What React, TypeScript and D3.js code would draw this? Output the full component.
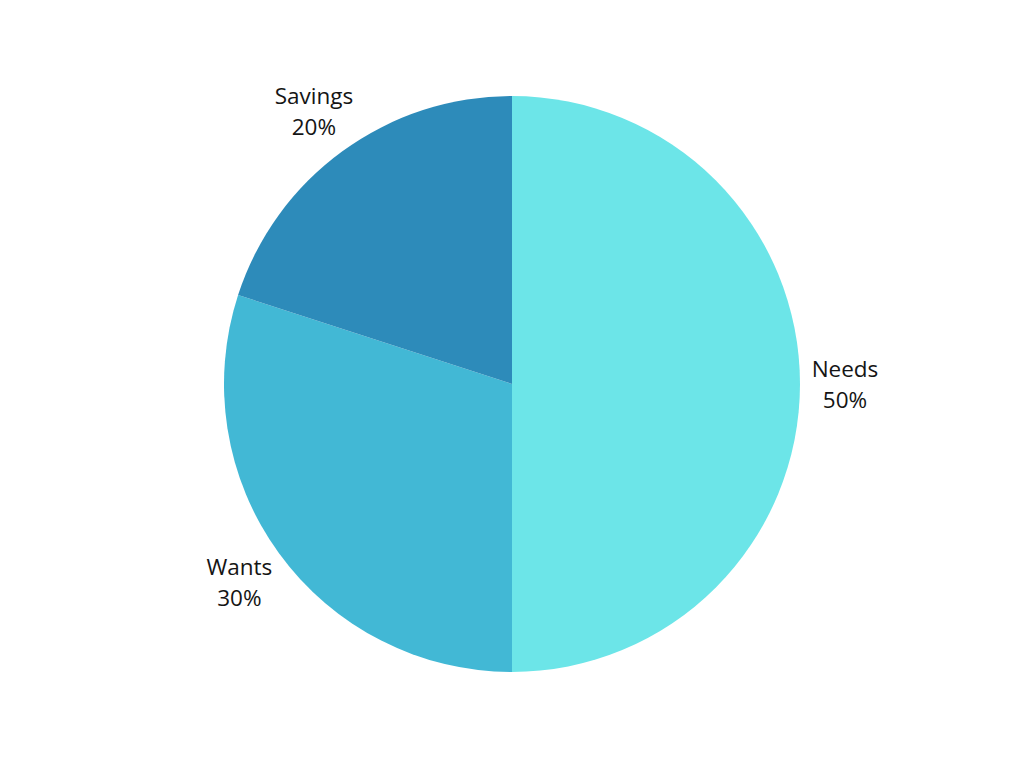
import React from "react";
import * as d3 from "d3";

const categories = ["Needs", "Wants", "Savings"];
const values = [50, 30, 20];
const colors = ["#6ce5e8", "#42b8d5", "#2d8bba"];

const W = 1024;
const H = 768;
const cx = 512;
const cy = 384;
const R = 288;
const labelR = 337;

export default function App() {
  const data = categories.map((c, i) => ({ name: c, value: values[i], color: colors[i] }));
  const pie = d3
    .pie<{ name: string; value: number; color: string }>()
    .sort(null)
    .value((d) => d.value);
  const arcs = pie(data);
  const arc = d3.arc<d3.PieArcDatum<any>>().innerRadius(0).outerRadius(R);
  const total = d3.sum(values);

  return (
    <svg
      width={W}
      height={H}
      style={{ position: "absolute", left: 0, top: 0, background: "#ffffff" }}
    >
      <g transform={`translate(${cx},${cy})`}>
        {arcs.map((a) => (
          <path key={a.data.name} d={arc(a) || ""} fill={a.data.color} />
        ))}
        {arcs.map((a) => {
          const mid = (a.startAngle + a.endAngle) / 2;
          const x = Math.sin(mid) * labelR - (Math.sin(mid) > 0.99 ? 4 : 0);
          const y = -Math.cos(mid) * labelR;
          const pct = Math.round((a.data.value / total) * 100);
          return (
            <g key={"l" + a.data.name}>
              <text
                x={x}
                y={y - 7}
                textAnchor="middle"
                fontFamily="'Open Sans', 'Noto Sans', sans-serif"
                fontSize={22.5}
                fill="#151515"
              >
                {a.data.name}
              </text>
              <text
                x={x}
                y={y + 24}
                textAnchor="middle"
                fontFamily="'Open Sans', 'Noto Sans', sans-serif"
                fontSize={22.5}
                fill="#151515"
              >
                {pct}%
              </text>
            </g>
          );
        })}
      </g>
    </svg>
  );
}
